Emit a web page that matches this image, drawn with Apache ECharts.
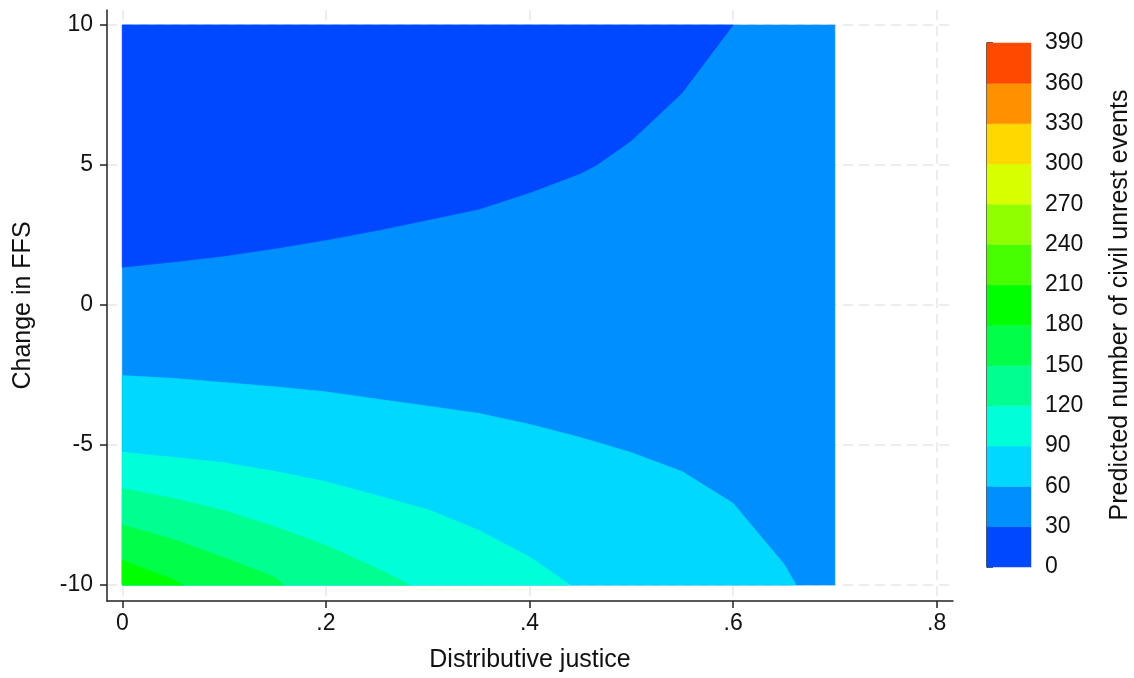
<!DOCTYPE html>
<html><head><meta charset="utf-8">
<script src="https://cdn.jsdelivr.net/npm/echarts@6/dist/echarts.min.js"></script>
<style>html,body{margin:0;padding:0;background:#fff}#c{width:1134px;height:678px}</style>
</head><body><div id="c"></div>
<script>
// ---- data ----
const xTicks = [0, 0.2, 0.4, 0.6, 0.8];
const yTicks = [-10, -5, 0, 5, 10];
const levelBreaks = [0, 30, 60, 90, 120, 150, 180, 210, 240, 270, 300, 330, 360, 390];
const levelColors = ['#0048FF', '#008FFF', '#00D8FF', '#00FFD8', '#00FF90', '#00FF48', '#00FF00',
                     '#48FF00', '#90FF00', '#D8FF00', '#FFD800', '#FF9000', '#FF4800'];
const xExtent = [0, 0.7];
const yExtent = [-10, 10];
// contour boundaries (Distributive justice, Change in FFS)
const contour30 = [[0, 1.35], [0.05, 1.54], [0.1, 1.75], [0.15, 2.02], [0.2, 2.32], [0.25, 2.66], [0.3, 3.04],
                   [0.35, 3.42], [0.4, 4.01], [0.45, 4.70], [0.466, 5.0], [0.5, 5.87], [0.55, 7.58], [0.6, 10]];
const contour60 = [[0, -2.52], [0.05, -2.62], [0.1, -2.77], [0.15, -2.92], [0.2, -3.10], [0.25, -3.36], [0.3, -3.61],
                   [0.35, -3.87], [0.4, -4.26], [0.45, -4.73], [0.5, -5.27], [0.55, -5.95], [0.6, -7.08],
                   [0.65, -9.25], [0.662, -10]];
const contour90 = [[0, -5.26], [0.05, -5.44], [0.1, -5.63], [0.15, -5.94], [0.2, -6.31], [0.25, -6.80],
                   [0.3, -7.30], [0.35, -8.04], [0.4, -8.99], [0.44, -10]];
const contour120 = [[0, -6.55], [0.05, -6.90], [0.1, -7.34], [0.15, -7.92], [0.2, -8.58], [0.25, -9.40], [0.283, -10]];
const contour150 = [[0, -7.85], [0.05, -8.37], [0.1, -9.02], [0.15, -9.72], [0.159, -10]];
const contour180 = [[0, -9.12], [0.05, -9.80], [0.06, -10]];

// ---- build ----
const FONT = 'Liberation Sans, Arial, Helvetica, sans-serif';
const TXT = '#111';
const AX = '#222';

function polySeries(verts, color) {
  return {
    type: 'custom', xAxisIndex: 0, yAxisIndex: 0, silent: true, animation: false,
    data: verts,
    renderItem: function (params, api) {
      if (params.dataIndex !== 0) return null;
      const pts = verts.map(p => api.coord(p));
      return { type: 'polygon', shape: { points: pts }, style: { fill: color, stroke: color, lineWidth: 0.6 } };
    }
  };
}
const baseRect = [[xExtent[0], yExtent[0]], [xExtent[1], yExtent[0]], [xExtent[1], yExtent[1]], [xExtent[0], yExtent[1]]];
const topRegion = [[xExtent[0], yExtent[1]]].concat(contour30);
const below = c => c.concat([[xExtent[0], yExtent[0]]]);

const series = [
  polySeries(baseRect, levelColors[1]),
  polySeries(topRegion, levelColors[0]),
  polySeries(below(contour60), levelColors[2]),
  polySeries(below(contour90), levelColors[3]),
  polySeries(below(contour120), levelColors[4]),
  polySeries(below(contour150), levelColors[5]),
  polySeries(below(contour180), levelColors[6])
];
const bands = levelColors.map((c, i) => [levelBreaks[i], levelBreaks[i + 1], i]);
series.push({
  type: 'custom', xAxisIndex: 1, yAxisIndex: 1, silent: true, animation: false,
  data: bands,
  renderItem: function (params, api) {
    const lo = api.value(0), hi = api.value(1), idx = api.value(2);
    const p0 = api.coord([0, hi]), p1 = api.coord([1, lo]);
    return { type: 'rect', shape: { x: p0[0], y: p0[1], width: p1[0] - p0[0], height: p1[1] - p0[1] },
             style: { fill: levelColors[idx], stroke: levelColors[idx], lineWidth: 0.5 } };
  }
});

const gridLine = { show: true, lineStyle: { type: [10, 6], color: '#e8e8e8', width: 1.5 } };
const fmtX = v => v === 0 ? '0' : String(+v.toFixed(2)).replace(/^0\./, '.').replace(/^-0\./, '-.');

const option = {
  animation: false,
  backgroundColor: '#fff',
  textStyle: { fontFamily: FONT },
  grid: [
    { left: 107, top: 10, width: 846, height: 591 },
    { left: 987, top: 43, width: 44, height: 524 }
  ],
  xAxis: [
    {
      gridIndex: 0, type: 'value', min: -0.01503, max: 0.8160,
      axisLine: { show: true, onZero: false, lineStyle: { color: AX, width: 1.5 } },
      axisTick: { show: true, length: 7, customValues: xTicks, lineStyle: { color: AX, width: 1.5 } },
      axisLabel: { customValues: xTicks, formatter: fmtX, fontSize: 23, margin: 11, color: TXT, fontFamily: FONT },
      splitLine: gridLine,
      name: 'Distributive justice', nameLocation: 'middle', nameGap: 47,
      nameTextStyle: { fontSize: 25, color: TXT, fontFamily: FONT }
    },
    { gridIndex: 1, type: 'value', min: 0, max: 1, show: false }
  ],
  yAxis: [
    {
      gridIndex: 0, type: 'value', min: -10.571, max: 10.536,
      axisLine: { show: true, onZero: false, lineStyle: { color: AX, width: 1.5 } },
      axisTick: { show: true, length: 7, customValues: yTicks, lineStyle: { color: AX, width: 1.5 } },
      axisLabel: { customValues: yTicks, fontSize: 23, margin: 14, color: TXT, fontFamily: FONT },
      splitLine: gridLine,
      name: 'Change in FFS', nameLocation: 'middle', nameGap: 71, nameRotate: 90,
      nameTextStyle: { fontSize: 25, color: TXT, fontFamily: FONT }
    },
    {
      gridIndex: 1, type: 'value', position: 'right', min: 0, max: 390, interval: 30,
      axisLine: { show: true, lineStyle: { color: AX, width: 1.5 } },
      axisTick: { show: true, length: 6, lineStyle: { color: AX, width: 1.5 } },
      axisLabel: { fontSize: 23, margin: 14, color: TXT, fontFamily: FONT },
      splitLine: { show: false },
      name: 'Predicted number of civil unrest events', nameLocation: 'middle', nameGap: 77, nameRotate: 90,
      nameTextStyle: { fontSize: 25, color: TXT, fontFamily: FONT }
    }
  ],
  series: series
};
const chart = echarts.init(document.getElementById('c'), null, { renderer: 'canvas' });
chart.setOption(option);
</script>
</body></html>
